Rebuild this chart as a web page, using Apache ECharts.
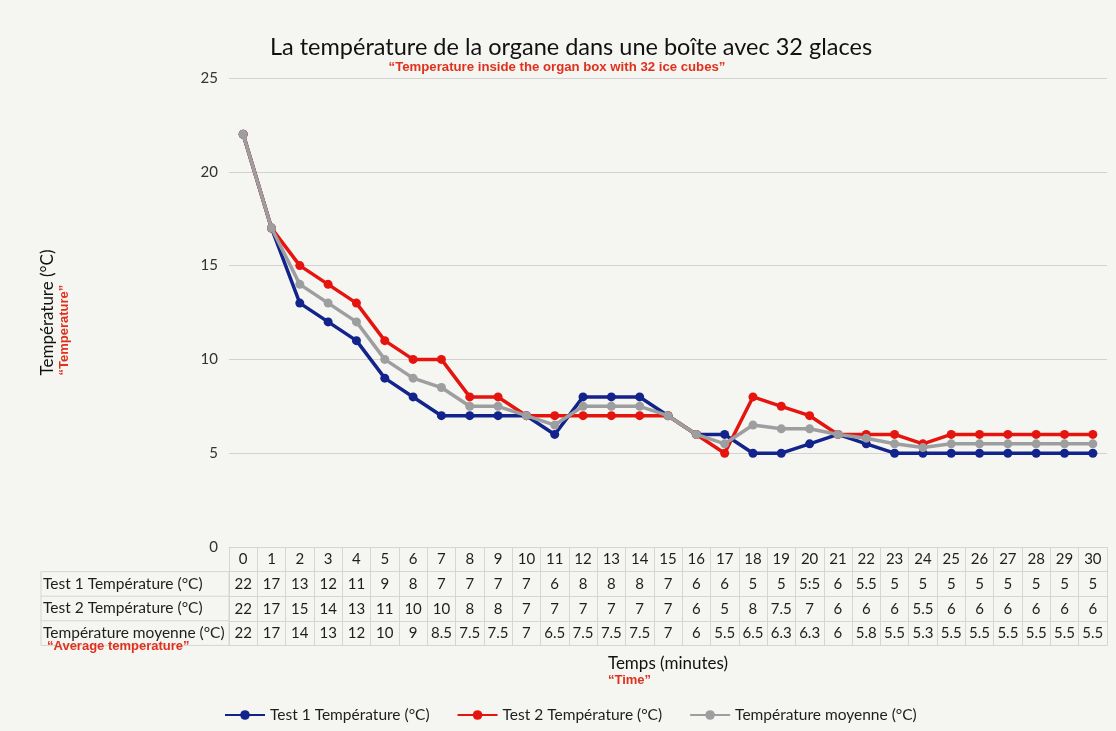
<!DOCTYPE html>
<html>
<head>
<meta charset="utf-8">
<title>Température organe</title>
<script src="https://cdn.jsdelivr.net/npm/echarts@6/dist/echarts.min.js"></script>
<style>
  html, body { margin: 0; padding: 0; background: #f5f6f1; }
  #chart { width: 1116px; height: 731px; }
</style>
</head>
<body>
<div id="chart"></div>
<script>
// minutes on the x axis
const minutes = [0, 1, 2, 3, 4, 5, 6, 7, 8, 9, 10, 11, 12, 13, 14, 15, 16, 17, 18, 19, 20, 21, 22, 23, 24, 25, 26, 27, 28, 29, 30];
const test1 = [22, 17, 13, 12, 11, 9, 8, 7, 7, 7, 7, 6, 8, 8, 8, 7, 6, 6, 5, 5, 5.5, 6, 5.5, 5, 5, 5, 5, 5, 5, 5, 5];
const test2 = [22, 17, 15, 14, 13, 11, 10, 10, 8, 8, 7, 7, 7, 7, 7, 7, 6, 5, 8, 7.5, 7, 6, 6, 6, 5.5, 6, 6, 6, 6, 6, 6];
const average = [22, 17, 14, 13, 12, 10, 9, 8.5, 7.5, 7.5, 7, 6.5, 7.5, 7.5, 7.5, 7, 6, 5.5, 6.5, 6.3, 6.3, 6, 5.8, 5.5, 5.3, 5.5, 5.5, 5.5, 5.5, 5.5, 5.5];
const seriesNames = ['Test 1 Température (°C)', 'Test 2 Température (°C)', 'Température moyenne (°C)'];
const colors = ['#13238c', '#e5140f', '#9d9ea0'];

// the data table under the chart shows the values as typed in the sheet
const test1Text = test1.map(String);
test1Text[20] = '5:5';
const test2Text = test2.map(String);
const averageText = average.map(String);

const font = 'Lato, "Open Sans", sans-serif';
const redFont = '"Liberation Sans Narrow", "Liberation Sans", Arial, sans-serif';
const border = '#d5d6d3';
const rowH = 24.6;

const chart = echarts.init(document.getElementById('chart'));

function tableAxis(data, offset) {
  return {
    type: 'category',
    gridIndex: 0,
    position: 'bottom',
    offset: offset,
    data: data,
    boundaryGap: true,
    axisLine: { show: true, lineStyle: { color: border, width: 1 } },
    axisTick: { show: false },
    axisLabel: { interval: 0, margin: 5, fontSize: 15, color: '#1e1e1e', fontFamily: font }
  };
}

const option = {
  backgroundColor: '#f5f6f1',
  title: [{
    text: 'La température de la organe dans une boîte avec 32 glaces',
    left: 566,
    top: 30,
    textAlign: 'center',
    textStyle: { fontSize: 23.5, fontWeight: 'normal', color: '#111', fontFamily: font }
  }, {
    text: '“Temperature inside the organ box with 32 ice cubes”',
    left: 552,
    top: 56,
    textAlign: 'center',
    textStyle: { fontSize: 13.2, fontWeight: 'bold', color: '#e0301e', fontFamily: redFont }
  }],
  tooltip: { trigger: 'axis' },
  legend: {
    data: seriesNames,
    top: 702,
    left: 219,
    itemWidth: 40,
    itemHeight: 12,
    itemGap: 27,
    textStyle: { fontSize: 15.5, color: '#1e1e1e', fontFamily: font }
  },
  grid: { left: 229, right: 9, top: 78, bottom: 184, containLabel: false },
  xAxis: [
    {
      type: 'category',
      data: minutes,
      boundaryGap: true,
      axisLine: { show: true, lineStyle: { color: border, width: 1 } },
      axisTick: { show: true, interval: 0, length: rowH * 4, lineStyle: { color: border, width: 1 } },
      axisLabel: { interval: 0, margin: 5, fontSize: 15, color: '#1e1e1e', fontFamily: font },
      splitLine: { show: false }
    },
    tableAxis(test1Text, rowH),
    tableAxis(test2Text, rowH * 2),
    tableAxis(averageText, rowH * 3),
    {
      type: 'category',
      position: 'bottom',
      offset: rowH * 4,
      data: minutes,
      axisLine: { show: true, lineStyle: { color: border, width: 1 } },
      axisTick: { show: false },
      axisLabel: { show: false },
      name: '{a|Temps (minutes)}\n{b|“Time”}',
      nameLocation: 'middle',
      nameGap: 9,
      nameTextStyle: {
        rich: {
          a: { fontSize: 17, color: '#111', fontFamily: font, align: 'left', lineHeight: 19 },
          b: { fontSize: 13, fontWeight: 'bold', color: '#e0301e', fontFamily: redFont, align: 'left', lineHeight: 15 }
        }
      }
    }
  ],
  yAxis: {
    type: 'value',
    min: 0,
    max: 25,
    interval: 5,
    axisLine: { show: false },
    axisTick: { show: false },
    axisLabel: { fontSize: 15, color: '#333', margin: 11, fontFamily: font },
    splitLine: { lineStyle: { color: '#d2d3d0', width: 1.2 } },
    name: '{a|Température (°C)}\n{b|“Temperature”}',
    nameLocation: 'middle',
    nameGap: 157,
    nameRotate: 90,
    nameTextStyle: {
      rich: {
        a: { fontSize: 17, color: '#111', fontFamily: font, align: 'left', lineHeight: 19 },
        b: { fontSize: 13, fontWeight: 'bold', color: '#e0301e', fontFamily: redFont, align: 'left', lineHeight: 15 }
      }
    }
  },
  series: [test1, test2, average].map((values, i) => ({
    name: seriesNames[i],
    type: 'line',
    data: values,
    symbol: 'circle',
    symbolSize: 9,
    color: colors[i],
    lineStyle: { width: 3.5, color: colors[i] },
    itemStyle: { color: colors[i] },
    z: 2 + i
  })),
  graphic: [
    // row headers of the data table (left part, outside the plot grid)
    {
      type: 'rect',
      shape: { x: 41, y: 547 + rowH, width: 229 - 41, height: rowH * 3 },
      style: { fill: 'none', stroke: border, lineWidth: 1 },
      silent: true
    },
    {
      type: 'line',
      shape: { x1: 41, y1: 547 + rowH * 2, x2: 229, y2: 547 + rowH * 2 },
      style: { stroke: border, lineWidth: 1 },
      silent: true
    },
    {
      type: 'line',
      shape: { x1: 41, y1: 547 + rowH * 3, x2: 229, y2: 547 + rowH * 3 },
      style: { stroke: border, lineWidth: 1 },
      silent: true
    }
  ].concat(seriesNames.map((name, i) => ({
    type: 'text',
    left: 43,
    top: 547 + rowH * (i + 1) + 4,
    style: { text: name, fontSize: 15.5, fill: '#1e1e1e', fontFamily: font },
    silent: true
  }))).concat([{
    type: 'text',
    left: 47,
    top: 640,
    style: { text: '“Average temperature”', fontSize: 13, fontWeight: 'bold', fill: '#e0301e', fontFamily: redFont },
    silent: true
  }])
};

chart.setOption(option);
window.addEventListener('resize', () => chart.resize());
</script>
</body>
</html>
